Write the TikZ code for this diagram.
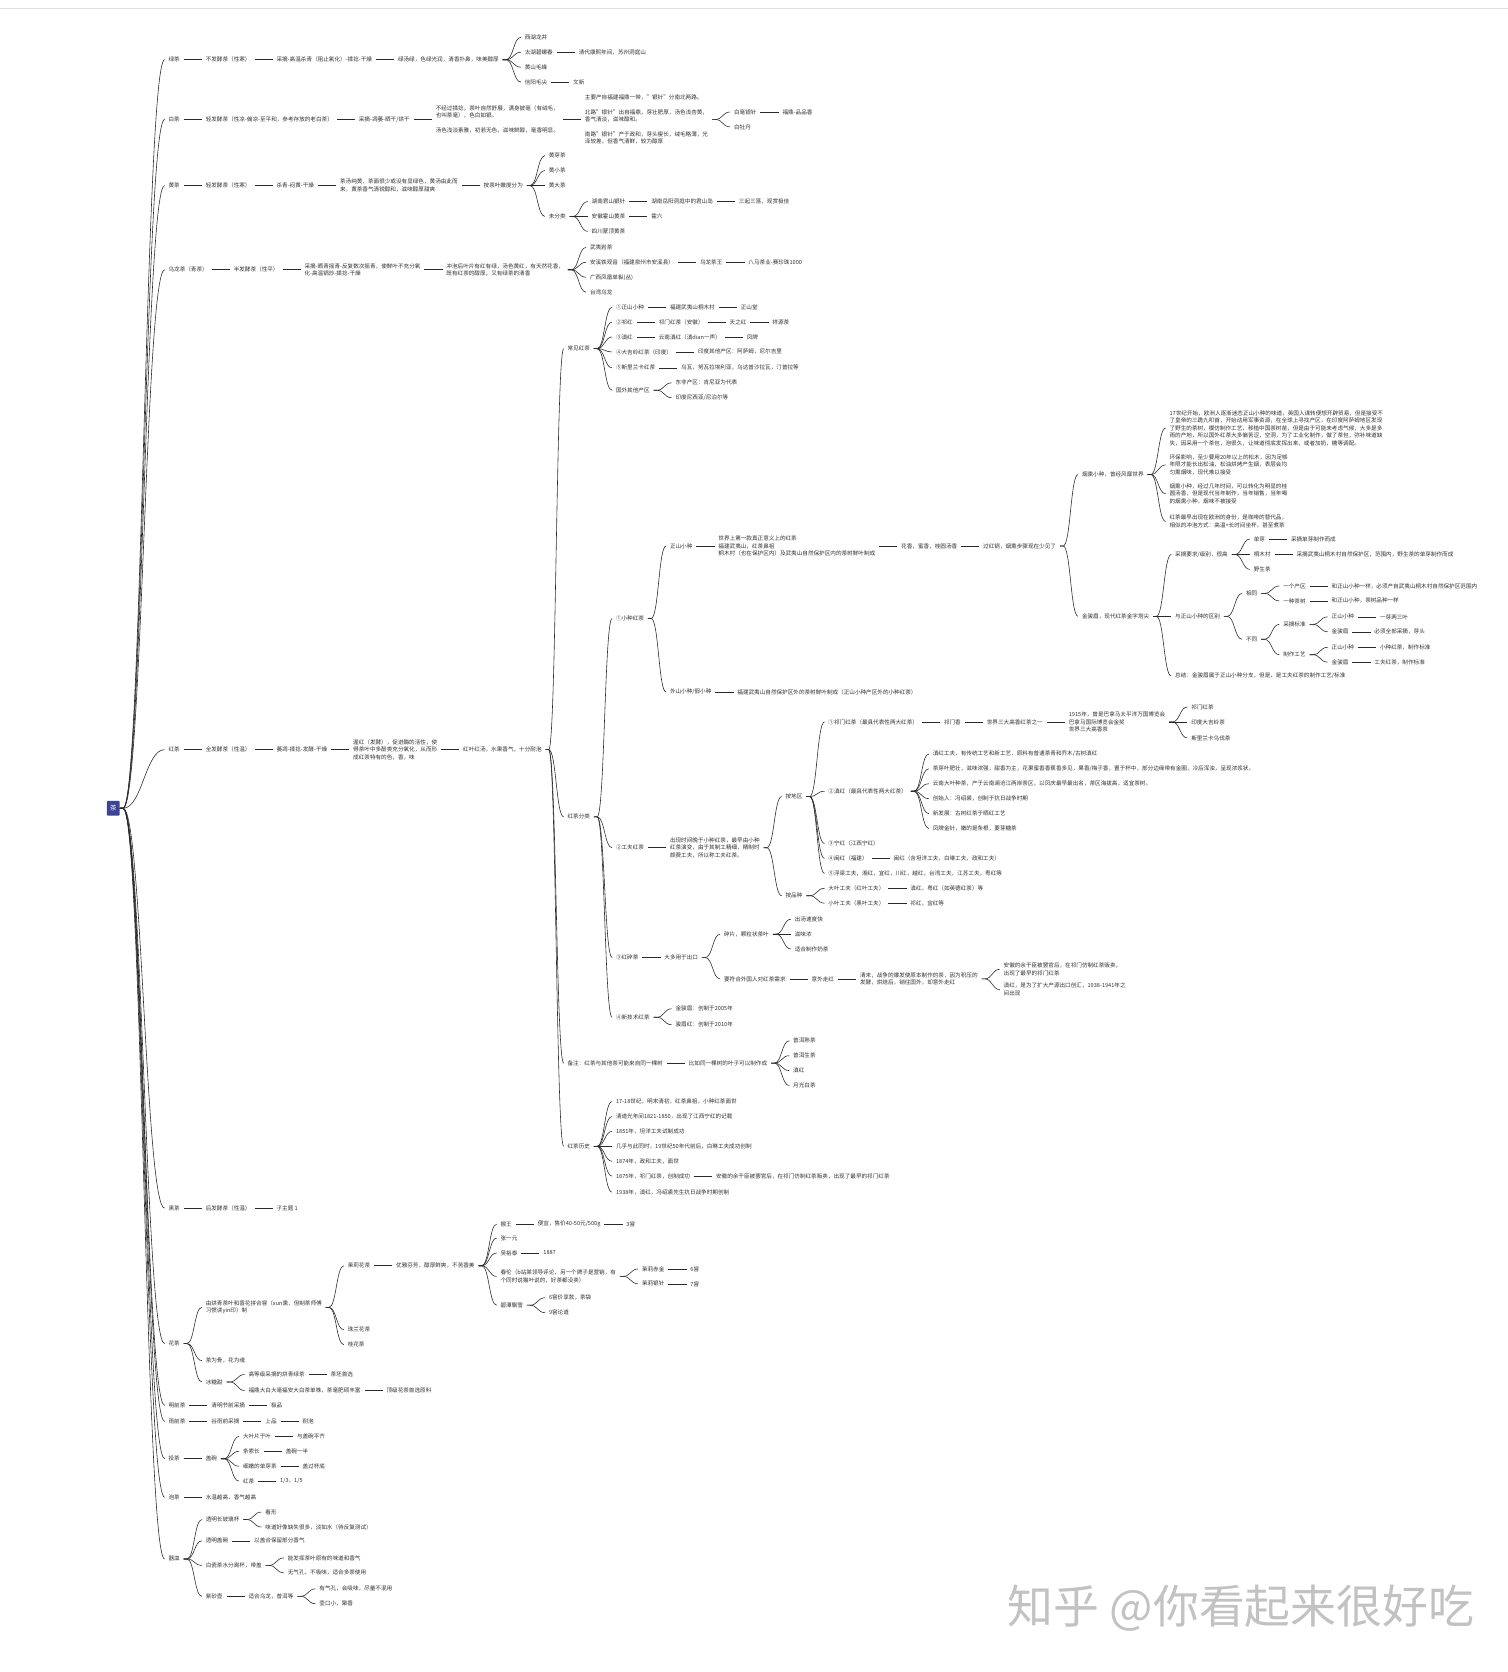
\documentclass[tikz,border=0pt]{standalone}
\usepackage{fontspec}
\setmainfont{Noto Sans CJK SC}
\usetikzlibrary{positioning}
\definecolor{fg}{HTML}{303030}
\definecolor{ln}{HTML}{2A2A2A}
\definecolor{rootc}{HTML}{3B4496}
\definecolor{wm}{HTML}{C2C2C2}
\tikzstyle{txt}=[inner xsep=3.5pt, inner ysep=1.5pt, text=fg, align=left,
font=\fontsize{5.25}{7}\selectfont]
\tikzstyle{rootbox}=[fill=rootc, text=white, inner sep=2.5pt, minimum width=12pt,
minimum height=14pt, rounded corners=1pt, font=\fontsize{6}{7}\selectfont]
\tikzstyle{mylink}=[draw=ln, line width=0.55pt]
\tikzstyle{mybranch}=[mylink, to path={-- ++(3pt,0pt) .. controls +(7pt,0pt) and +(-7pt,0pt) .. (\tikztotarget)}]
\tikzstyle{rootbranch}=[mylink, to path={-- ++(3pt,0pt) .. controls +(18pt,0pt) and +(-18pt,0pt) .. (\tikztotarget)}]

\begin{document}
\begin{tikzpicture}[x=1pt, y=-1pt, node distance=17pt]
    \useasboundingbox (0,0) rectangle (1414,1568);
    \draw[gray!25, line width=1pt] (0,8) -- (1414,8);

    \node[rootbox, anchor=west] (cha) at (100,758) {茶};

    % 绿茶
    \node[txt, right=42pt of cha, yshift=702pt] (lv) {绿茶};
    \draw[rootbranch] (cha.east) to (lv.west);
    \node[txt, right=of lv] (lv1) {不发酵茶（性寒）};
    \draw[mylink] (lv) -- (lv1);
    \node[txt, right=of lv1] (lv2) {采摘-高温杀青（阻止氧化）-揉捻-干燥};
    \draw[mylink] (lv1) -- (lv2);
    \node[txt, right=of lv2] (lv3) {绿汤绿，色绿光润，清香扑鼻，味美醇厚};
    \draw[mylink] (lv2) -- (lv3);
    \node[txt, right=of lv3, yshift=21pt] (lv3a) {西湖龙井};
    \draw[mybranch] (lv3.east) to (lv3a.west);
    \node[txt, right=of lv3, yshift=7pt] (lv3b) {太湖碧螺春};
    \draw[mybranch] (lv3.east) to (lv3b.west);
    \node[txt, right=of lv3b] (lv3b1) {清代康熙年间，苏州洞庭山};
    \draw[mylink] (lv3b) -- (lv3b1);
    \node[txt, right=of lv3, yshift=-7pt] (lv3c) {黄山毛峰};
    \draw[mybranch] (lv3.east) to (lv3c.west);
    \node[txt, right=of lv3, yshift=-21pt] (lv3d) {信阳毛尖};
    \draw[mybranch] (lv3.east) to (lv3d.west);
    \node[txt, right=of lv3d] (lv3d1) {文新};
    \draw[mylink] (lv3d) -- (lv3d1);

    % 白茶
    \node[txt, right=42pt of cha, yshift=646pt] (bai) {白茶};
    \draw[rootbranch] (cha.east) to (bai.west);
    \node[txt, right=of bai] (bai1) {轻发酵茶（性凉-偏凉-至平和，参考存放的老白茶）};
    \draw[mylink] (bai) -- (bai1);
    \node[txt, right=of bai1] (bai2) {采摘-凋萎-晒干/烘干};
    \draw[mylink] (bai1) -- (bai2);
    \node[txt, right=of bai2] (bai3) {不经过揉捻，茶叶自然舒展，满身披毫（有绒毛，\\也叫茶毫），色白如银。\\[7pt]汤色浅淡素雅，初若无色，滋味鲜醇，毫香明显。};
    \draw[mylink] (bai2) -- (bai3);
    \node[txt, right=of bai3] (bai4) {主要产自福建福鼎一带，"银针"分南北两路。\\[7pt]北路"银针"出自福鼎，芽壮肥厚，汤色浅杏黄，\\香气清淡，滋味醇和。\\[7pt]南路"银针"产于政和，芽头瘦长，绒毛略薄，光\\泽较差，但香气清鲜，较为醇厚};
    \draw[mylink] (bai3) -- (bai4);
    \node[txt, right=of bai4, yshift=7pt] (bai4a) {白毫银针};
    \draw[mybranch] (bai4.east) to (bai4a.west);
    \node[txt, right=of bai4a] (bai4a1) {福鼎-品品香};
    \draw[mylink] (bai4a) -- (bai4a1);
    \node[txt, right=of bai4, yshift=-7pt] (bai4b) {白牡丹};
    \draw[mybranch] (bai4.east) to (bai4b.west);

    % 黄茶
    \node[txt, right=42pt of cha, yshift=584pt] (huang) {黄茶};
    \draw[rootbranch] (cha.east) to (huang.west);
    \node[txt, right=of huang] (h1) {轻发酵茶（性寒）};
    \draw[mylink] (huang) -- (h1);
    \node[txt, right=of h1] (h2) {杀青-闷黄-干燥};
    \draw[mylink] (h1) -- (h2);
    \node[txt, right=of h2] (h3) {茶汤纯黄，茶面很少或没有显绿色，黄汤由此而\\来，黄茶香气清锐醇和，滋味醇厚甜爽};
    \draw[mylink] (h2) -- (h3);
    \node[txt, right=of h3] (h4) {按茶叶嫩度分为};
    \draw[mylink] (h3) -- (h4);
    \node[txt, right=of h4, yshift=28pt] (h4a) {黄芽茶};
    \draw[mybranch] (h4.east) to (h4a.west);
    \node[txt, right=of h4, yshift=14pt] (h4b) {黄小茶};
    \draw[mybranch] (h4.east) to (h4b.west);
    \node[txt, right=of h4] (h4c) {黄大茶};
    \draw[mylink] (h4) -- (h4c);
    \node[txt, right=of h4, yshift=-29pt] (h4d) {未分类};
    \draw[mybranch] (h4.east) to (h4d.west);
    \node[txt, right=of h4d, yshift=14pt] (h4d1) {湖南君山银针};
    \draw[mybranch] (h4d.east) to (h4d1.west);
    \node[txt, right=of h4d1] (h4d1a) {湖南岳阳洞庭中的君山岛};
    \draw[mylink] (h4d1) -- (h4d1a);
    \node[txt, right=of h4d1a] (h4d1b) {三起三落，观赏极佳};
    \draw[mylink] (h4d1a) -- (h4d1b);
    \node[txt, right=of h4d] (h4d2) {安徽霍山黄茶};
    \draw[mylink] (h4d) -- (h4d2);
    \node[txt, right=of h4d2] (h4d2a) {霍六};
    \draw[mylink] (h4d2) -- (h4d2a);
    \node[txt, right=of h4d, yshift=-14pt] (h4d3) {四川蒙顶黄茶};
    \draw[mybranch] (h4d.east) to (h4d3.west);

    % 乌龙茶
    \node[txt, right=42pt of cha, yshift=505pt] (wl) {乌龙茶（青茶）};
    \draw[rootbranch] (cha.east) to (wl.west);
    \node[txt, right=of wl] (wl1) {半发酵茶（性平）};
    \draw[mylink] (wl) -- (wl1);
    \node[txt, right=of wl1] (wl2) {采摘-晒青摇青-反复数次摇青，使鲜叶不充分氧\\化-高温锅炒-揉捻-干燥};
    \draw[mylink] (wl1) -- (wl2);
    \node[txt, right=of wl2] (wl3) {冲泡后叶片有红有绿，汤色黄红，有天然花香，\\既有红茶的醇厚，又有绿茶的清香};
    \draw[mylink] (wl2) -- (wl3);
    \node[txt, right=of wl3, yshift=21pt] (wl3a) {武夷岩茶};
    \draw[mybranch] (wl3.east) to (wl3a.west);
    \node[txt, right=of wl3, yshift=7pt] (wl3b) {安溪铁观音（福建泉州市安溪县）};
    \draw[mybranch] (wl3.east) to (wl3b.west);
    \node[txt, right=of wl3b] (wl3b1) {乌龙茶王};
    \draw[mylink] (wl3b) -- (wl3b1);
    \node[txt, right=of wl3b1] (wl3b2) {八马茶业-赛珍珠1000};
    \draw[mylink] (wl3b1) -- (wl3b2);
    \node[txt, right=of wl3, yshift=-7pt] (wl3c) {广西凤凰单枞(丛)};
    \draw[mybranch] (wl3.east) to (wl3c.west);
    \node[txt, right=of wl3, yshift=-21pt] (wl3d) {台湾乌龙};
    \draw[mybranch] (wl3.east) to (wl3d.west);

    % 红茶
    \node[txt, right=42pt of cha, yshift=55pt] (hong) {红茶};
    \draw[rootbranch] (cha.east) to (hong.west);
    \node[txt, right=of hong] (hong1) {全发酵茶（性温）};
    \draw[mylink] (hong) -- (hong1);
    \node[txt, right=of hong1] (hong2) {萎凋-揉捻-发酵-干燥};
    \draw[mylink] (hong1) -- (hong2);
    \node[txt, right=of hong2] (hong3) {渥红（发酵），促进酶的活性，使\\得茶叶中多酚类充分氧化，从而形\\成红茶特有的色，香，味};
    \draw[mylink] (hong2) -- (hong3);
    \node[txt, right=of hong3] (hong4) {红叶红汤，水果香气，十分耐泡};
    \draw[mylink] (hong3) -- (hong4);

    % 常见红茶
    \node[txt, right=of hong4, yshift=376pt] (cj) {常见红茶};
    \draw[mybranch] (hong4.east) to (cj.west);
    \node[txt, right=of cj, yshift=39pt] (cj1) {①正山小种};
    \draw[mybranch] (cj.east) to (cj1.west);
    \node[txt, right=of cj1] (cj1a) {福建武夷山桐木村};
    \draw[mylink] (cj1) -- (cj1a);
    \node[txt, right=of cj1a] (cj1b) {正山堂};
    \draw[mylink] (cj1a) -- (cj1b);
    \node[txt, right=of cj, yshift=25pt] (cj2) {②祁红};
    \draw[mybranch] (cj.east) to (cj2.west);
    \node[txt, right=of cj2] (cj2a) {祁门红茶（安徽）};
    \draw[mylink] (cj2) -- (cj2a);
    \node[txt, right=of cj2a] (cj2b) {天之红};
    \draw[mylink] (cj2a) -- (cj2b);
    \node[txt, right=of cj2b] (cj2c) {祥源茶};
    \draw[mylink] (cj2b) -- (cj2c);
    \node[txt, right=of cj, yshift=11pt] (cj3) {③滇红};
    \draw[mybranch] (cj.east) to (cj3.west);
    \node[txt, right=of cj3] (cj3a) {云南滇红（滇dian一声）};
    \draw[mylink] (cj3) -- (cj3a);
    \node[txt, right=of cj3a] (cj3b) {凤牌};
    \draw[mylink] (cj3a) -- (cj3b);
    \node[txt, right=of cj, yshift=-3pt] (cj4) {④大吉岭红茶（印度）};
    \draw[mybranch] (cj.east) to (cj4.west);
    \node[txt, right=of cj4] (cj4a) {印度其他产区：阿萨姆，尼尔吉里};
    \draw[mylink] (cj4) -- (cj4a);
    \node[txt, right=of cj, yshift=-18pt] (cj5) {⑤斯里兰卡红茶};
    \draw[mybranch] (cj.east) to (cj5.west);
    \node[txt, right=of cj5] (cj5a) {乌瓦，努瓦拉埃利亚，乌达普沙拉瓦，汀普拉等};
    \draw[mylink] (cj5) -- (cj5a);
    \node[txt, right=of cj, yshift=-39pt] (cj6) {国外其他产区};
    \draw[mybranch] (cj.east) to (cj6.west);
    \node[txt, right=of cj6, yshift=7pt] (cj6a) {东非产区：肯尼亚为代表};
    \draw[mybranch] (cj6.east) to (cj6a.west);
    \node[txt, right=of cj6, yshift=-7pt] (cj6b) {印度尼西亚/尼泊尔等};
    \draw[mybranch] (cj6.east) to (cj6b.west);

    % 红茶分类
    \node[txt, right=of hong4, yshift=-63pt] (fl) {红茶分类};
    \draw[mybranch] (hong4.east) to (fl.west);
    \node[txt, right=of fl, yshift=186pt] (xz) {①小种红茶};
    \draw[mybranch] (fl.east) to (xz.west);
    \node[txt, right=of xz, yshift=68pt] (zs) {正山小种};
    \draw[mybranch] (xz.east) to (zs.west);
    \node[txt, right=of zs] (zs1) {世界上第一款真正意义上的红茶\\福建武夷山，红茶鼻祖\\桐木村（也在保护区内）及武夷山自然保护区内的茶树鲜叶制成};
    \draw[mylink] (zs) -- (zs1);
    \node[txt, right=of zs1] (zs2) {花香，蜜香，桂圆汤香};
    \draw[mylink] (zs1) -- (zs2);
    \node[txt, right=of zs2] (zs3) {过红锅，烟熏步骤现在少见了};
    \draw[mylink] (zs2) -- (zs3);

    \node[txt, right=of zs3, yshift=67pt] (yx) {烟熏小种，曾经风靡世界};
    \draw[mybranch] (zs3.east) to (yx.west);
    \node[txt, right=of yx, yshift=43.5pt] (yx1) {17世纪开始，欧洲人逐渐迷恋正山小种的味道，英国人谋转便想开辟贸易，但是接受不\\了皇帝的三跪九叩首，开始动用军事资源，在全球上寻找产区，在印度阿萨姆地区发现\\了野生的茶树，模仿制作工艺，移植中国茶树苗，但是由于可能未考虑气候，大多是多\\雨的产地，所以国外红茶大多偏苦涩，空洞，为了工业化制作，做了茶包，弥补味道缺\\失，因采用一个茶包，泡很久，让味道彻底发挥出来，或者加奶，糖等调配。};
    \draw[mybranch] (yx.east) to (yx1.west);
    \node[txt, right=of yx, yshift=9pt] (yx2) {环保影响，至少要用20年以上的松木，因为足够\\年限才能长出松油，松油烘烤产生烟，表层会均\\匀熏烟味，现代难以接受};
    \draw[mybranch] (yx.east) to (yx2.west);
    \node[txt, right=of yx, yshift=-18pt] (yx3) {烟熏小种，经过几年时间，可以转化为明显的桂\\圆汤香，但是现代当年制作，当年销售，当年喝\\的烟熏小种，烟味不被接受};
    \draw[mybranch] (yx.east) to (yx3.west);
    \node[txt, right=of yx, yshift=-44pt] (yx4) {红茶最早出现在欧洲的身份，是咖啡的替代品，\\相似的冲泡方式：高温+长时间坐杯，甚至煮茶};
    \draw[mybranch] (yx.east) to (yx4.west);

    \node[txt, right=of zs3, yshift=-66pt] (jjm) {金骏眉，现代红茶金字塔尖};
    \draw[mybranch] (zs3.east) to (jjm.west);
    \node[txt, right=of jjm, yshift=58pt] (cz) {采摘要求/级别，很高};
    \draw[mybranch] (jjm.east) to (cz.west);
    \node[txt, right=of cz, yshift=14.5pt] (cz1) {单芽};
    \draw[mybranch] (cz.east) to (cz1.west);
    \node[txt, right=of cz1] (cz1a) {采摘单芽制作而成};
    \draw[mylink] (cz1) -- (cz1a);
    \node[txt, right=of cz] (cz2) {桐木村};
    \draw[mylink] (cz) -- (cz2);
    \node[txt, right=of cz2] (cz2a) {采摘武夷山桐木村自然保护区，范围内，野生茶的单芽制作而成};
    \draw[mylink] (cz2) -- (cz2a);
    \node[txt, right=of cz, yshift=-14pt] (cz3) {野生茶};
    \draw[mybranch] (cz.east) to (cz3.west);

    \node[txt, right=of jjm] (qb) {与正山小种的区别};
    \draw[mylink] (jjm) -- (qb);
    \node[txt, right=of qb, yshift=21.5pt] (xt) {相同};
    \draw[mybranch] (qb.east) to (xt.west);
    \node[txt, right=of xt, yshift=7pt] (xt1) {一个产区};
    \draw[mybranch] (xt.east) to (xt1.west);
    \node[txt, right=of xt1] (xt1a) {和正山小种一样，必须产自武夷山桐木村自然保护区范围内};
    \draw[mylink] (xt1) -- (xt1a);
    \node[txt, right=of xt, yshift=-7pt] (xt2) {一种茶树};
    \draw[mybranch] (xt.east) to (xt2.west);
    \node[txt, right=of xt2] (xt2a) {和正山小种，茶树品种一样};
    \draw[mylink] (xt2) -- (xt2a);
    \node[txt, right=of qb, yshift=-21.5pt] (bt) {不同};
    \draw[mybranch] (qb.east) to (bt.west);
    \node[txt, right=of bt, yshift=14pt] (bt1) {采摘标准};
    \draw[mybranch] (bt.east) to (bt1.west);
    \node[txt, right=of bt1, yshift=7pt] (bt1a) {正山小种};
    \draw[mybranch] (bt1.east) to (bt1a.west);
    \node[txt, right=of bt1a] (bt1a1) {一芽两三叶};
    \draw[mylink] (bt1a) -- (bt1a1);
    \node[txt, right=of bt1, yshift=-7pt] (bt1b) {金骏眉};
    \draw[mybranch] (bt1.east) to (bt1b.west);
    \node[txt, right=of bt1b] (bt1b1) {必须全部采摘，芽头};
    \draw[mylink] (bt1b) -- (bt1b1);
    \node[txt, right=of bt, yshift=-14.5pt] (bt2) {制作工艺};
    \draw[mybranch] (bt.east) to (bt2.west);
    \node[txt, right=of bt2, yshift=7pt] (bt2a) {正山小种};
    \draw[mybranch] (bt2.east) to (bt2a.west);
    \node[txt, right=of bt2a] (bt2a1) {小种红茶，制作标准};
    \draw[mylink] (bt2a) -- (bt2a1);
    \node[txt, right=of bt2, yshift=-7pt] (bt2b) {金骏眉};
    \draw[mybranch] (bt2.east) to (bt2b.west);
    \node[txt, right=of bt2b] (bt2b1) {工夫红茶，制作标准};
    \draw[mylink] (bt2b) -- (bt2b1);

    \node[txt, right=of jjm, yshift=-56pt] (zj) {总结：金骏眉属于正山小种分支，但是，是工夫红茶的制作工艺/标准};
    \draw[mybranch] (jjm.east) to (zj.west);

    \node[txt, right=of xz, yshift=-69pt] (ws) {外山小种/假小种};
    \draw[mybranch] (xz.east) to (ws.west);
    \node[txt, right=of ws] (ws1) {福建武夷山自然保护区外的茶树鲜叶制成（正山小种产区外的小种红茶）};
    \draw[mylink] (ws) -- (ws1);

    % 工夫红茶
    \node[txt, right=of fl, yshift=-29pt] (gf) {②工夫红茶};
    \draw[mybranch] (fl.east) to (gf.west);
    \node[txt, right=of gf] (gf1) {出现时间晚于小种红茶，最早由小种\\红茶演变，由于其制工精细，精制时\\颇费工夫，所以称工夫红茶。};
    \draw[mylink] (gf) -- (gf1);
    \node[txt, right=of gf1, yshift=48pt] (dq) {按地区};
    \draw[mybranch] (gf1.east) to (dq.west);
    \node[txt, right=of dq, yshift=70pt] (q1) {①祁门红茶（最具代表性两大红茶）};
    \draw[mybranch] (dq.east) to (q1.west);
    \node[txt, right=of q1] (q1a) {祁门香};
    \draw[mylink] (q1) -- (q1a);
    \node[txt, right=of q1a] (q1b) {世界三大高香红茶之一};
    \draw[mylink] (q1a) -- (q1b);
    \node[txt, right=of q1b] (q1c) {1915年，曾是巴拿马太平洋万国博览会\\巴拿马国际博览会金奖\\世界三大高香茶};
    \draw[mylink] (q1b) -- (q1c);
    \node[txt, right=of q1c, yshift=14pt] (q1c1) {祁门红茶};
    \draw[mybranch] (q1c.east) to (q1c1.west);
    \node[txt, right=of q1c] (q1c2) {印度大吉岭茶};
    \draw[mylink] (q1c) -- (q1c2);
    \node[txt, right=of q1c, yshift=-15pt] (q1c3) {斯里兰卡乌伐茶};
    \draw[mybranch] (q1c.east) to (q1c3.west);

    \node[txt, right=of dq, yshift=5pt] (q2) {②滇红（最具代表性两大红茶）};
    \draw[mybranch] (dq.east) to (q2.west);
    \node[txt, right=of q2, yshift=35pt] (q2a) {滇红工夫，有传统工艺和新工艺，原料有普通茶青和乔木/古树滇红};
    \draw[mybranch] (q2.east) to (q2a.west);
    \node[txt, right=of q2, yshift=21pt] (q2b) {茶芽叶肥壮，滋味浓强，甜香为主，花果蜜香香蕉香多见，果香/梅子香，置于杯中，部分边缘带有金圈，冷后浑浊，呈现浓浆状。};
    \draw[mybranch] (q2.east) to (q2b.west);
    \node[txt, right=of q2, yshift=7pt] (q2c) {云南大叶种茶，产于云南澜沧江两岸茶区，以凤庆最早最出名，茶区海拔高，适宜茶树。};
    \draw[mybranch] (q2.east) to (q2c.west);
    \node[txt, right=of q2, yshift=-7pt] (q2d) {创始人：冯绍裘，创制于抗日战争时期};
    \draw[mybranch] (q2.east) to (q2d.west);
    \node[txt, right=of q2, yshift=-21pt] (q2e) {新发展：古树红茶于晒红工艺};
    \draw[mybranch] (q2.east) to (q2e.west);
    \node[txt, right=of q2, yshift=-35pt] (q2f) {凤牌金针，嫩的是条根，要芽糖茶};
    \draw[mybranch] (q2.east) to (q2f.west);

    \node[txt, right=of dq, yshift=-44pt] (q3) {③宁红（江西宁红）};
    \draw[mybranch] (dq.east) to (q3.west);
    \node[txt, right=of dq, yshift=-58pt] (q4) {④闽红（福建）};
    \draw[mybranch] (dq.east) to (q4.west);
    \node[txt, right=of q4] (q4a) {闽红（含坦洋工夫，白琳工夫，政和工夫）};
    \draw[mylink] (q4) -- (q4a);
    \node[txt, right=of dq, yshift=-72pt] (q5) {⑤浮梁工夫，湘红，宜红，川红，越红，台湾工夫，江苏工夫，粤红等};
    \draw[mybranch] (dq.east) to (q5.west);

    \node[txt, right=of gf1, yshift=-45pt] (pz) {按品种};
    \draw[mybranch] (gf1.east) to (pz.west);
    \node[txt, right=of pz, yshift=7pt] (pz1) {大叶工夫（红叶工夫）};
    \draw[mybranch] (pz.east) to (pz1.west);
    \node[txt, right=of pz1] (pz1a) {滇红，粤红（如英德红茶）等};
    \draw[mylink] (pz1) -- (pz1a);
    \node[txt, right=of pz, yshift=-7pt] (pz2) {小叶工夫（黑叶工夫）};
    \draw[mybranch] (pz.east) to (pz2.west);
    \node[txt, right=of pz2] (pz2a) {祁红，宜红等};
    \draw[mylink] (pz2) -- (pz2a);

    % 红碎茶
    \node[txt, right=of fl, yshift=-132pt] (sc) {③红碎茶};
    \draw[mybranch] (fl.east) to (sc.west);
    \node[txt, right=of sc] (sc1) {大多用于出口};
    \draw[mylink] (sc) -- (sc1);
    \node[txt, right=of sc1, yshift=22pt] (sp) {碎片，颗粒状茶叶};
    \draw[mybranch] (sc1.east) to (sp.west);
    \node[txt, right=of sp, yshift=14pt] (sp1) {出汤速度快};
    \draw[mybranch] (sp.east) to (sp1.west);
    \node[txt, right=of sp] (sp2) {滋味浓};
    \draw[mylink] (sp) -- (sp2);
    \node[txt, right=of sp, yshift=-14pt] (sp3) {适合制作奶茶};
    \draw[mybranch] (sp.east) to (sp3.west);
    \node[txt, right=of sc1, yshift=-20pt] (yq) {要符合外国人对红茶需求};
    \draw[mybranch] (sc1.east) to (yq.west);
    \node[txt, right=of yq] (yq1) {意外走红};
    \draw[mylink] (yq) -- (yq1);
    \node[txt, right=of yq1] (yq2) {清末，战争的爆发使原本制作的茶，因为积压的\\发酵，烘焙后，销往国外，却意外走红};
    \draw[mylink] (yq1) -- (yq2);
    \node[txt, right=of yq2, yshift=9pt] (yq2a) {安徽的余干臣被罢官后，在祁门仿制红茶贩卖，\\出现了最早的祁门红茶};
    \draw[mybranch] (yq2.east) to (yq2a.west);
    \node[txt, right=of yq2, yshift=-10pt] (yq2b) {滇红，是为了扩大产源出口创汇，1938-1941年之\\间出现};
    \draw[mybranch] (yq2.east) to (yq2b.west);

    % 新技术红茶
    \node[txt, right=of fl, yshift=-188pt] (xj) {④新技术红茶};
    \draw[mybranch] (fl.east) to (xj.west);
    \node[txt, right=of xj, yshift=8pt] (xj1) {金骏眉：创制于2005年};
    \draw[mybranch] (xj.east) to (xj1.west);
    \node[txt, right=of xj, yshift=-7pt] (xj2) {骏眉红：创制于2010年};
    \draw[mybranch] (xj.east) to (xj2.west);

    % 备注
    \node[txt, right=of hong4, yshift=-294pt] (bz) {备注：红茶与其他茶可能来自同一棵树};
    \draw[mybranch] (hong4.east) to (bz.west);
    \node[txt, right=of bz] (bz1) {比如同一棵树的叶子可以制作成};
    \draw[mylink] (bz) -- (bz1);
    \node[txt, right=of bz1, yshift=21pt] (bz1a) {普洱熟茶};
    \draw[mybranch] (bz1.east) to (bz1a.west);
    \node[txt, right=of bz1, yshift=7pt] (bz1b) {普洱生茶};
    \draw[mybranch] (bz1.east) to (bz1b.west);
    \node[txt, right=of bz1, yshift=-7pt] (bz1c) {滇红};
    \draw[mybranch] (bz1.east) to (bz1c.west);
    \node[txt, right=of bz1, yshift=-21pt] (bz1d) {月光白茶};
    \draw[mybranch] (bz1.east) to (bz1d.west);

    % 红茶历史
    \node[txt, right=of hong4, yshift=-372pt] (ls) {红茶历史};
    \draw[mybranch] (hong4.east) to (ls.west);
    \node[txt, right=of ls, yshift=42pt] (ls1) {17-18世纪，明末清初，红茶鼻祖，小种红茶面世};
    \draw[mybranch] (ls.east) to (ls1.west);
    \node[txt, right=of ls, yshift=28pt] (ls2) {清道光年间1821-1850，出现了江西宁红的记载};
    \draw[mybranch] (ls.east) to (ls2.west);
    \node[txt, right=of ls, yshift=14pt] (ls3) {1851年，坦洋工夫试制成功};
    \draw[mybranch] (ls.east) to (ls3.west);
    \node[txt, right=of ls] (ls4) {几乎与此同时，19世纪50年代前后，白琳工夫成功创制};
    \draw[mylink] (ls) -- (ls4);
    \node[txt, right=of ls, yshift=-14pt] (ls5) {1874年，政和工夫，面世};
    \draw[mybranch] (ls.east) to (ls5.west);
    \node[txt, right=of ls, yshift=-28pt] (ls6) {1875年，祁门红茶，创制成功};
    \draw[mybranch] (ls.east) to (ls6.west);
    \node[txt, right=of ls6] (ls6a) {安徽的余干臣被罢官后，在祁门仿制红茶贩卖，出现了最早的祁门红茶};
    \draw[mylink] (ls6) -- (ls6a);
    \node[txt, right=of ls, yshift=-43pt] (ls7) {1938年，滇红，冯绍裘先生抗日战争时期创制};
    \draw[mybranch] (ls.east) to (ls7.west);

    % 黑茶
    \node[txt, right=42pt of cha, yshift=-375pt] (hei) {黑茶};
    \draw[rootbranch] (cha.east) to (hei.west);
    \node[txt, right=of hei] (hei1) {后发酵茶（性温）};
    \draw[mylink] (hei) -- (hei1);
    \node[txt, right=of hei1] (hei2) {子主题 1};
    \draw[mylink] (hei1) -- (hei2);

    % 花茶
    \node[txt, right=42pt of cha, yshift=-502pt] (hc) {花茶};
    \draw[rootbranch] (cha.east) to (hc.west);
    \node[txt, right=of hc, yshift=34pt] (hc1) {由烘青茶叶和香花拼合窨（xun熏，但制茶师傅\\习惯读yin印）制};
    \draw[mybranch] (hc.east) to (hc1.west);
    \node[txt, right=of hc1, yshift=39pt] (ml) {茉莉花茶};
    \draw[mybranch] (hc1.east) to (ml.west);
    \node[txt, right=of ml] (ml1) {优雅芬芳，醇厚鲜爽，不苦香美};
    \draw[mylink] (ml) -- (ml1);
    \node[txt, right=of ml1, yshift=39pt] (ml1a) {猴王};
    \draw[mybranch] (ml1.east) to (ml1a.west);
    \node[txt, right=of ml1a] (ml1a1) {便宜，售价40-50元/500g};
    \draw[mylink] (ml1a) -- (ml1a1);
    \node[txt, right=of ml1a1] (ml1a2) {3窨};
    \draw[mylink] (ml1a1) -- (ml1a2);
    \node[txt, right=of ml1, yshift=26pt] (ml1b) {张一元};
    \draw[mybranch] (ml1.east) to (ml1b.west);
    \node[txt, right=of ml1, yshift=12pt] (ml1c) {吴裕泰};
    \draw[mybranch] (ml1.east) to (ml1c.west);
    \node[txt, right=of ml1c] (ml1c1) {1887};
    \draw[mylink] (ml1c) -- (ml1c1);
    \node[txt, right=of ml1, yshift=-10pt] (ml1d) {春伦（b站某领导评论，另一个牌子是营销，有\\个同时说猫叶说的，好茶都没卖）};
    \draw[mybranch] (ml1.east) to (ml1d.west);
    \node[txt, right=of ml1d, yshift=7pt] (ml1d1) {茉莉赤金};
    \draw[mybranch] (ml1d.east) to (ml1d1.west);
    \node[txt, right=of ml1d1] (ml1d1a) {6窨};
    \draw[mylink] (ml1d1) -- (ml1d1a);
    \node[txt, right=of ml1d, yshift=-7pt] (ml1d2) {茉莉银针};
    \draw[mybranch] (ml1d.east) to (ml1d2.west);
    \node[txt, right=of ml1d2] (ml1d2a) {7窨};
    \draw[mylink] (ml1d2) -- (ml1d2a);
    \node[txt, right=of ml1, yshift=-37pt] (ml1e) {碧潭飘雪};
    \draw[mybranch] (ml1.east) to (ml1e.west);
    \node[txt, right=of ml1e, yshift=7pt] (ml1e1) {6窨价享款，茶袋};
    \draw[mybranch] (ml1e.east) to (ml1e1.west);
    \node[txt, right=of ml1e, yshift=-7pt] (ml1e2) {9窨论道};
    \draw[mybranch] (ml1e.east) to (ml1e2.west);
    \node[txt, right=of hc1, yshift=-21pt] (zl) {珠兰花茶};
    \draw[mybranch] (hc1.east) to (zl.west);
    \node[txt, right=of hc1, yshift=-35pt] (gh) {桂花茶};
    \draw[mybranch] (hc1.east) to (gh.west);

    \node[txt, right=of hc, yshift=-16pt] (hc2) {茶为骨，花为魂};
    \draw[mybranch] (hc.east) to (hc2.west);
    \node[txt, right=of hc, yshift=-36pt] (hc3) {冰糖甜};
    \draw[mybranch] (hc.east) to (hc3.west);
    \node[txt, right=of hc3, yshift=7pt] (hc3a) {高等级采摘的烘青绿茶};
    \draw[mybranch] (hc3.east) to (hc3a.west);
    \node[txt, right=of hc3a] (hc3a1) {茶坯首选};
    \draw[mylink] (hc3a) -- (hc3a1);
    \node[txt, right=of hc3, yshift=-8pt] (hc3b) {福鼎大白大毫福安大白茶单株，茶毫肥硕丰富};
    \draw[mybranch] (hc3.east) to (hc3b.west);
    \node[txt, right=of hc3b] (hc3b1) {顶级花茶首选原料};
    \draw[mylink] (hc3b) -- (hc3b1);

    % 明前茶 / 雨前茶
    \node[txt, right=42pt of cha, yshift=-560pt] (mq) {明前茶};
    \draw[rootbranch] (cha.east) to (mq.west);
    \node[txt, right=of mq] (mq1) {清明节前采摘};
    \draw[mylink] (mq) -- (mq1);
    \node[txt, right=of mq1] (mq2) {极品};
    \draw[mylink] (mq1) -- (mq2);
    \node[txt, right=42pt of cha, yshift=-575pt] (yq0) {雨前茶};
    \draw[rootbranch] (cha.east) to (yq0.west);
    \node[txt, right=of yq0] (yq01) {谷雨前采摘};
    \draw[mylink] (yq0) -- (yq01);
    \node[txt, right=of yq01] (yq02) {上品};
    \draw[mylink] (yq01) -- (yq02);
    \node[txt, right=of yq02] (yq03) {耐泡};
    \draw[mylink] (yq02) -- (yq03);

    % 投茶
    \node[txt, right=42pt of cha, yshift=-610pt] (tc) {投茶};
    \draw[rootbranch] (cha.east) to (tc.west);
    \node[txt, right=of tc] (tc1) {盖碗};
    \draw[mylink] (tc) -- (tc1);
    \node[txt, right=of tc1, yshift=21pt] (tc1a) {大叶片干叶};
    \draw[mybranch] (tc1.east) to (tc1a.west);
    \node[txt, right=of tc1a] (tc1a1) {与盖碗平齐};
    \draw[mylink] (tc1a) -- (tc1a1);
    \node[txt, right=of tc1, yshift=7pt] (tc1b) {条索长};
    \draw[mybranch] (tc1.east) to (tc1b.west);
    \node[txt, right=of tc1b] (tc1b1) {盖碗一半};
    \draw[mylink] (tc1b) -- (tc1b1);
    \node[txt, right=of tc1, yshift=-7pt] (tc1c) {细嫩的单芽茶};
    \draw[mybranch] (tc1.east) to (tc1c.west);
    \node[txt, right=of tc1c] (tc1c1) {盖过杯底};
    \draw[mylink] (tc1c) -- (tc1c1);
    \node[txt, right=of tc1, yshift=-21pt] (tc1d) {红茶};
    \draw[mybranch] (tc1.east) to (tc1d.west);
    \node[txt, right=of tc1d] (tc1d1) {1/3，1/5};
    \draw[mylink] (tc1d) -- (tc1d1);

    % 泡茶
    \node[txt, right=42pt of cha, yshift=-646pt] (pc) {泡茶};
    \draw[rootbranch] (cha.east) to (pc.west);
    \node[txt, right=of pc] (pc1) {水温越高，香气越高};
    \draw[mylink] (pc) -- (pc1);

    % 器皿
    \node[txt, right=42pt of cha, yshift=-704pt] (qm) {器皿};
    \draw[rootbranch] (cha.east) to (qm.west);
    \node[txt, right=of qm, yshift=37pt] (qm1) {透明长玻璃杯};
    \draw[mybranch] (qm.east) to (qm1.west);
    \node[txt, right=of qm1, yshift=7pt] (qm1a) {看形};
    \draw[mybranch] (qm1.east) to (qm1a.west);
    \node[txt, right=of qm1, yshift=-7pt] (qm1b) {味道好像缺失很多，淡如水（待反复测试）};
    \draw[mybranch] (qm1.east) to (qm1b.west);
    \node[txt, right=of qm, yshift=17pt] (qm2) {透明盖碗};
    \draw[mybranch] (qm.east) to (qm2.west);
    \node[txt, right=of qm2] (qm2a) {以盖合保留部分香气};
    \draw[mylink] (qm2) -- (qm2a);
    \node[txt, right=of qm, yshift=-6pt] (qm3) {白瓷茶水分离杯，带盖};
    \draw[mybranch] (qm.east) to (qm3.west);
    \node[txt, right=of qm3, yshift=7pt] (qm3a) {能发挥茶叶原有的味道和香气};
    \draw[mybranch] (qm3.east) to (qm3a.west);
    \node[txt, right=of qm3, yshift=-7pt] (qm3b) {无气孔，不吸味，适合多茶使用};
    \draw[mybranch] (qm3.east) to (qm3b.west);
    \node[txt, right=of qm, yshift=-35pt] (qm4) {紫砂壶};
    \draw[mybranch] (qm.east) to (qm4.west);
    \node[txt, right=of qm4] (qm4a) {适合乌龙，普洱等};
    \draw[mylink] (qm4) -- (qm4a);
    \node[txt, right=of qm4a, yshift=7pt] (qm4a1) {有气孔，会吸味，尽量不混用};
    \draw[mybranch] (qm4a.east) to (qm4a1.west);
    \node[txt, right=of qm4a, yshift=-7pt] (qm4a2) {壶口小，聚香};
    \draw[mybranch] (qm4a.east) to (qm4a2.west);

    % 水印
    \node[anchor=west, text=wm, inner sep=0pt, font=\fontsize{43}{43}\selectfont] (wmk) at (945,1508) {知乎 @你看起来很好吃};
\end{tikzpicture}
\end{document}
